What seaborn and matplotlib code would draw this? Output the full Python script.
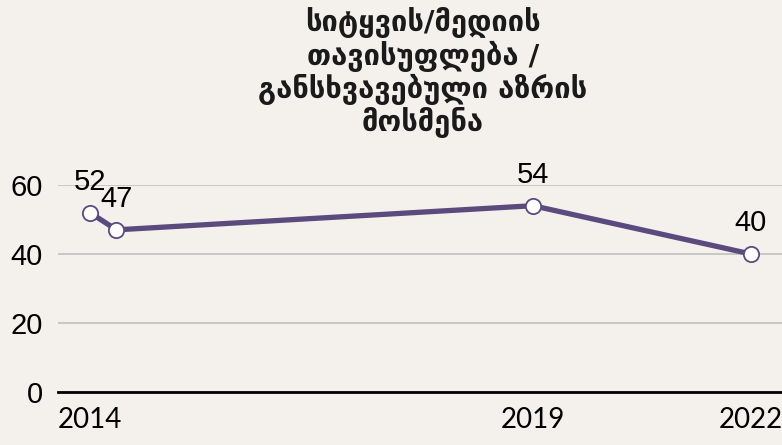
import matplotlib
matplotlib.use("Agg")
import matplotlib.pyplot as plt
import pandas as pd
import seaborn as sns

# survey points (position on a year scale) and values
survey_x = [2014.0, 2014.3, 2019.0, 2021.46]
values = [52, 47, 54, 40]
tick_pos = [2014.0, 2019.0, 2021.46]
tick_labels = ["2014", "2019", "2022"]

# no installed bold font has Mtavruli capitals, so the title uses Mkhedruli
title = "სიტყვის/მედიის\nთავისუფლება /\nგანსხვავებული აზრის\nმოსმენა"

bg = "#f4f1ed"
purple = "#5b4a7e"

sns.set_theme(style="white")
plt.rcParams["font.family"] = ["Liberation Sans", "DejaVu Sans"]
plt.rcParams["text.color"] = "black"
plt.rcParams["xtick.color"] = "black"
plt.rcParams["ytick.color"] = "black"

df = pd.DataFrame({"x": survey_x, "value": values})

fig = plt.figure(figsize=(7.82, 4.45), dpi=100, facecolor=bg)
ax = fig.add_axes([58 / 782, 1 - 392 / 445, 1 - 58 / 782, (392 - 185) / 445])
ax.set_facecolor(bg)

sns.lineplot(data=df, x="x", y="value", ax=ax, color=purple, linewidth=3.8,
             marker="o", markersize=11, markerfacecolor="white",
             markeredgecolor=purple, markeredgewidth=1.3, clip_on=False, zorder=3)

for xv, v in zip(survey_x, values):
    ax.annotate(str(v), (xv, v), xytext=(0, 22), textcoords="offset points",
                ha="center", va="center", fontsize=21, color="black")

ax.set_xlim(2013.64, 2021.81)
ax.set_ylim(0, 60)
ax.set_yticks([0, 20, 40, 60])
ax.set_xticks(tick_pos)
ax.set_xticklabels(tick_labels, fontfamily="Lato", fontsize=20)
ax.tick_params(axis="y", length=0, pad=11, labelsize=21)
ax.tick_params(axis="x", length=5, width=1.5, color="black", direction="out", pad=6)
ax.yaxis.grid(True, color="#c4c4c4", linewidth=1.3)
ax.set_axisbelow(True)
ax.set_xlabel("")
ax.set_ylabel("")
for s in ["left", "right", "top"]:
    ax.spines[s].set_visible(False)
ax.spines["bottom"].set_color("black")
ax.spines["bottom"].set_linewidth(2)
ax.spines["bottom"].set_zorder(4)

fig.text(423 / 782, 1 - 7 / 445, title, ha="center", va="top", fontsize=21,
         fontweight="bold", family=["DejaVu Sans"], linespacing=1.1, color="#1a1a1a")

fig.savefig("out.png", dpi=100, facecolor=bg)
